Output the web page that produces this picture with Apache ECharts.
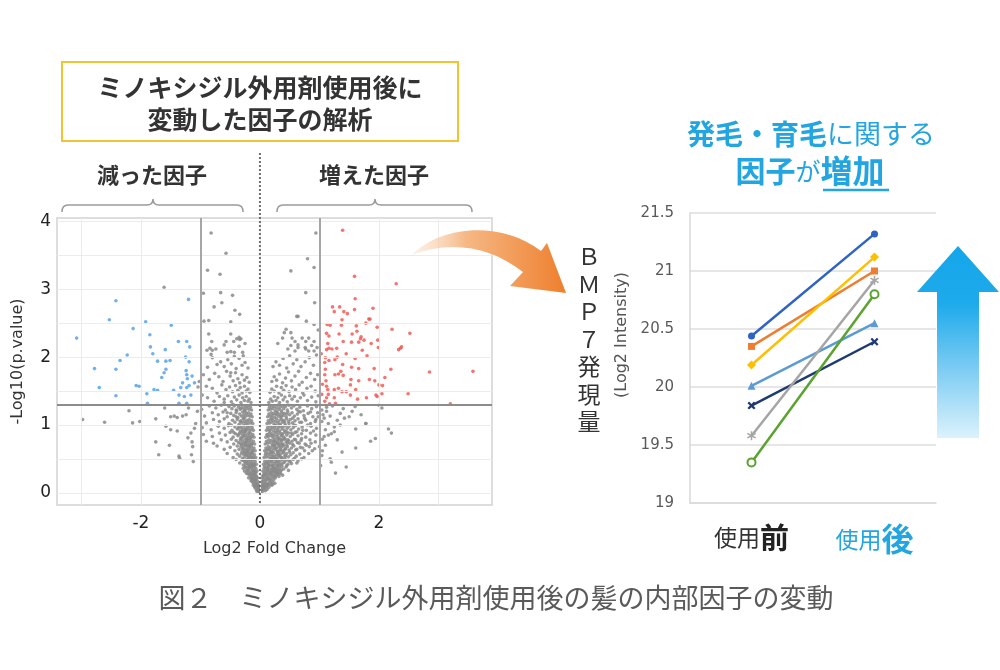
<!DOCTYPE html>
<html><head><meta charset="utf-8">
<script src="https://cdn.jsdelivr.net/npm/echarts@6/dist/echarts.min.js"></script>
<style>html,body{margin:0;padding:0;background:#fff}#c{width:1000px;height:670px}</style>
</head><body><div id="c"></div>
<script>
// ---------- Volcano plot data ----------
const volcanoXTicks = [-2, 0, 2];
const volcanoYTicks = [0, 1, 2, 3, 4];
const gridXLines = [-3, -2, -1, 0, 1, 2, 3];
const gridYLines = [0, 0.5, 1, 1.5, 2, 2.5, 3, 3.5, 4];
const foldCuts = [-1, 1];
const pCut = 1.3;

const grayLeft = [
[-0.01,0.01],[-0.02,0.03],[-0.03,0.02],[-0.02,0.06],[-0.04,0.05],[-0.05,0.08],[-0.03,0.09],[-0.06,0.04],[-0.07,0.09],[-0.08,0.07],[-0.01,0.04],[-0.05,0.02],
[-0.03,0.12],[-0.05,0.14],[-0.06,0.11],[-0.08,0.16],[-0.09,0.13],[-0.1,0.18],[-0.12,0.15],[-0.07,0.19],[-0.11,0.11],[-0.13,0.2],[-0.04,0.17],[-0.14,0.17],[-0.09,0.2],
[-0.04,0.22],[-0.06,0.25],[-0.08,0.23],[-0.1,0.27],[-0.12,0.22],[-0.13,0.26],[-0.15,0.29],[-0.16,0.24],[-0.18,0.27],[-0.07,0.29],[-0.11,0.3],[-0.19,0.22],[-0.21,0.28],[-0.14,0.21],[-0.09,0.26],
[-0.05,0.32],[-0.07,0.36],[-0.09,0.33],[-0.11,0.38],[-0.13,0.34],[-0.15,0.37],[-0.17,0.31],[-0.19,0.35],[-0.2,0.39],[-0.22,0.33],[-0.24,0.37],[-0.12,0.4],[-0.16,0.4],[-0.26,0.32],[-0.1,0.31],[-0.18,0.38],[-0.28,0.36],
[-0.06,0.42],[-0.08,0.46],[-0.1,0.43],[-0.12,0.48],[-0.14,0.44],[-0.16,0.47],[-0.18,0.42],[-0.2,0.45],[-0.22,0.49],[-0.24,0.43],[-0.26,0.46],[-0.28,0.41],[-0.13,0.5],[-0.19,0.5],[-0.3,0.48],[-0.34,0.44],[-0.11,0.41],[-0.23,0.47],[-0.4,0.49],
[-0.07,0.52],[-0.09,0.56],[-0.11,0.53],[-0.13,0.58],[-0.15,0.54],[-0.17,0.57],[-0.19,0.52],[-0.21,0.55],[-0.23,0.59],[-0.25,0.53],[-0.27,0.56],[-0.29,0.51],[-0.31,0.58],[-0.14,0.6],[-0.2,0.6],[-0.34,0.54],[-0.38,0.57],[-0.45,0.52],[-0.55,0.58],[-0.26,0.6],[-0.12,0.51],
[-0.08,0.62],[-0.1,0.66],[-0.12,0.63],[-0.14,0.68],[-0.16,0.64],[-0.18,0.67],[-0.2,0.62],[-0.22,0.65],[-0.24,0.69],[-0.26,0.63],[-0.28,0.66],[-0.3,0.61],[-0.32,0.68],[-0.35,0.64],[-0.38,0.69],[-0.42,0.62],[-0.5,0.67],[-0.6,0.64],[-0.72,0.69],[-0.17,0.7],[-0.23,0.7],
[-0.09,0.72],[-0.11,0.76],[-0.13,0.73],[-0.15,0.78],[-0.17,0.74],[-0.19,0.77],[-0.21,0.72],[-0.23,0.75],[-0.25,0.79],[-0.27,0.73],[-0.29,0.76],[-0.31,0.71],[-0.33,0.78],[-0.36,0.74],[-0.4,0.77],[-0.44,0.72],[-0.48,0.79],[-0.55,0.75],[-0.65,0.78],[-0.78,0.73],[-0.9,0.76],[-0.2,0.8],
[-0.1,0.82],[-0.12,0.86],[-0.14,0.83],[-0.16,0.88],[-0.18,0.84],[-0.2,0.87],[-0.22,0.82],[-0.24,0.85],[-0.26,0.89],[-0.28,0.83],[-0.3,0.86],[-0.32,0.81],[-0.34,0.88],[-0.37,0.84],[-0.41,0.87],[-0.45,0.82],[-0.5,0.89],[-0.58,0.85],[-0.68,0.88],[-0.8,0.83],[-0.95,0.86],[-0.25,0.9],
[-0.11,0.92],[-0.13,0.96],[-0.15,0.93],[-0.17,0.98],[-0.19,0.94],[-0.21,0.97],[-0.23,0.92],[-0.25,0.95],[-0.27,0.99],[-0.29,0.93],[-0.31,0.96],[-0.33,0.91],[-0.35,0.98],[-0.38,0.94],[-0.42,0.97],[-0.47,0.92],[-0.53,0.99],[-0.6,0.95],[-0.7,0.98],[-0.82,0.93],[-0.97,0.96],
[-0.12,1.02],[-0.14,1.06],[-0.16,1.03],[-0.18,1.08],[-0.2,1.04],[-0.22,1.07],[-0.24,1.02],[-0.26,1.05],[-0.28,1.09],[-0.3,1.03],[-0.32,1.06],[-0.35,1.01],[-0.38,1.08],[-0.42,1.04],[-0.46,1.07],[-0.52,1.02],[-0.6,1.09],[-0.68,1.05],[-0.78,1.08],[-0.9,1.03],
[-0.13,1.12],[-0.15,1.16],[-0.17,1.13],[-0.19,1.18],[-0.21,1.14],[-0.23,1.17],[-0.25,1.12],[-0.27,1.15],[-0.29,1.19],[-0.31,1.13],[-0.34,1.16],[-0.37,1.11],[-0.4,1.18],[-0.44,1.14],[-0.49,1.17],[-0.55,1.12],[-0.62,1.19],[-0.7,1.15],[-0.8,1.18],[-0.93,1.13],
[-0.14,1.22],[-0.16,1.26],[-0.18,1.23],[-0.2,1.28],[-0.22,1.24],[-0.24,1.27],[-0.26,1.22],[-0.28,1.25],[-0.3,1.29],[-0.33,1.23],[-0.36,1.26],[-0.39,1.21],[-0.43,1.28],[-0.47,1.24],[-0.52,1.27],[-0.58,1.22],[-0.65,1.29],[-0.74,1.25],[-0.85,1.28],[-0.98,1.23],
[-0.15,1.33],[-0.18,1.38],[-0.2,1.35],[-0.23,1.42],[-0.26,1.36],[-0.29,1.4],[-0.32,1.33],[-0.35,1.44],[-0.39,1.37],[-0.43,1.41],[-0.48,1.34],[-0.54,1.43],[-0.6,1.38],[-0.68,1.42],[-0.77,1.35],[-0.88,1.4],[-0.97,1.44],
[-0.17,1.48],[-0.2,1.53],[-0.23,1.5],[-0.26,1.57],[-0.3,1.47],[-0.33,1.55],[-0.37,1.51],[-0.41,1.58],[-0.46,1.49],[-0.51,1.56],[-0.57,1.52],[-0.64,1.59],[-0.72,1.47],[-0.8,1.54],[-0.9,1.57],
[-0.18,1.63],[-0.22,1.7],[-0.26,1.66],[-0.3,1.74],[-0.34,1.62],[-0.37,1.68],[-0.41,1.77],[-0.45,1.65],[-0.5,1.72],[-0.56,1.79],[-0.62,1.64],[-0.69,1.71],[-0.76,1.76],[-0.85,1.67],[-0.95,1.74],[-0.49,1.77],
[-0.2,1.84],[-0.25,1.92],[-0.3,1.88],[-0.35,1.98],[-0.4,1.83],[-0.43,2.01],[-0.48,1.9],[-0.54,1.96],[-0.6,1.86],[-0.66,1.93],[-0.72,1.89],[-0.8,1.99],[-0.88,1.85],[-0.82,2.04],[-0.28,2.02],
[-0.29,2.07],[-0.43,2.07],[-0.49,2.08],[-0.55,2.07],[-0.74,2.12],[-0.8,2.1],[-0.84,2.13],[-0.89,2.1],[-0.35,2.16],[-0.32,2.27],[-0.34,2.26],[-0.39,2.27],[-0.44,2.23],[-0.57,2.23],[-0.81,2.23],[-0.49,2.34],[-0.86,2.34],[-0.35,2.29],[-0.6,2.18],[-0.25,2.2],
[-0.34,2.63],[-0.42,2.69],[-0.49,2.52],[-0.77,2.74],[-0.64,2.8],[-0.86,2.54],[-0.94,2.53],[-0.46,2.91],[-0.66,2.95],[-0.95,2.94],[-0.67,3.22],[-0.88,3.28],[-0.57,3.53],[-0.82,3.83],
[-2.98,1.08],[-2.61,1.04],[-2.2,1.21],[-2.14,1.03],[-2.02,1.05],[-1.75,1.09],[-1.5,1.12],[-1.44,1.13],[-1.39,1.11],[-1.3,1.13],[-1.24,1.15],[-1.58,0.98],[-1.5,0.93],[-1.39,0.91],[-1.75,0.75],[-1.52,0.7],[-1.7,0.56],[-1.36,0.54],[-1.35,0.51],[-1.21,0.81],[-1.16,0.88],[-1.14,0.75],[-1.13,0.68],[-1.15,0.56],[-1.12,0.46],[-1.08,1.02],[-1.05,1.2],[-1.1,0.95],[-1.2,1.25],[-1.6,1.25],[-1.61,3.03],[-1.02,1.64],[-1.04,1.56]
];

const grayCoreLeft = [
[-0.02,0.08],[-0.04,0.11],[-0.07,0.14],[-0.09,0.09],[-0.11,0.2],[-0.06,0.21],[-0.13,0.24],[-0.15,0.19],[-0.08,0.3],[-0.12,0.33],[-0.17,0.28],[-0.2,0.33],[-0.23,0.29],[-0.09,0.4],[-0.14,0.42],[-0.17,0.38],[-0.21,0.43],[-0.25,0.39],[-0.1,0.5],[-0.15,0.53],[-0.18,0.49],[-0.22,0.56],[-0.28,0.48],[-0.12,0.6],[-0.16,0.58],[-0.21,0.63],[-0.25,0.58],[-0.29,0.65],[-0.14,0.72],[-0.19,0.69],[-0.24,0.74],[-0.28,0.7],[-0.33,0.73],[-0.16,0.81],[-0.22,0.78],[-0.27,0.84],[-0.31,0.8],[-0.36,0.86],[-0.18,0.9],[-0.24,0.93],[-0.3,0.9],[-0.36,0.95],[-0.44,0.89],[-0.21,1.0],[-0.27,1.1],[-0.33,1.05],[-0.4,1.12],[-0.48,1.0],[-0.25,1.2],[-0.32,1.25],[-0.4,1.22],[-0.55,1.18],[-0.45,1.3],[-0.6,1.33]
];

const grayRight = [
[0.01,0.01],[0.02,0.03],[0.03,0.05],[0.04,0.02],[0.05,0.07],[0.06,0.04],[0.07,0.09],[0.08,0.06],[0.09,0.03],[0.1,0.08],[0.03,0.09],[0.12,0.05],[0.02,0.07],
[0.03,0.12],[0.05,0.15],[0.07,0.11],[0.09,0.17],[0.11,0.13],[0.13,0.19],[0.15,0.14],[0.17,0.18],[0.19,0.12],[0.21,0.16],[0.06,0.19],[0.1,0.2],[0.14,0.11],[0.23,0.19],[0.18,0.2],[0.04,0.17],[0.25,0.14],
[0.04,0.22],[0.06,0.26],[0.08,0.23],[0.1,0.28],[0.12,0.24],[0.14,0.27],[0.16,0.21],[0.18,0.25],[0.2,0.29],[0.22,0.23],[0.24,0.27],[0.26,0.22],[0.28,0.26],[0.3,0.29],[0.32,0.24],[0.11,0.3],[0.19,0.3],[0.35,0.28],[0.07,0.29],[0.27,0.3],
[0.05,0.32],[0.07,0.36],[0.09,0.33],[0.11,0.38],[0.13,0.34],[0.15,0.37],[0.17,0.31],[0.19,0.35],[0.21,0.39],[0.23,0.33],[0.25,0.36],[0.27,0.31],[0.29,0.38],[0.31,0.34],[0.33,0.37],[0.35,0.32],[0.37,0.39],[0.4,0.35],[0.44,0.38],[0.14,0.4],[0.22,0.4],[0.3,0.4],[0.48,0.33],
[0.06,0.42],[0.08,0.46],[0.1,0.43],[0.12,0.48],[0.14,0.44],[0.16,0.47],[0.18,0.41],[0.2,0.45],[0.22,0.49],[0.24,0.43],[0.26,0.46],[0.28,0.41],[0.3,0.48],[0.32,0.44],[0.34,0.47],[0.36,0.42],[0.38,0.49],[0.41,0.45],[0.44,0.48],[0.47,0.42],[0.51,0.46],[0.56,0.49],[0.62,0.44],[0.17,0.5],[0.27,0.5],[0.37,0.5],
[0.07,0.52],[0.09,0.56],[0.11,0.53],[0.13,0.58],[0.15,0.54],[0.17,0.57],[0.19,0.51],[0.21,0.55],[0.23,0.59],[0.25,0.53],[0.27,0.56],[0.29,0.51],[0.31,0.58],[0.33,0.54],[0.35,0.57],[0.37,0.52],[0.39,0.59],[0.42,0.55],[0.45,0.58],[0.48,0.53],[0.52,0.56],[0.56,0.59],[0.61,0.54],[0.67,0.57],[0.74,0.52],[0.82,0.58],[0.2,0.6],[0.3,0.6],[0.4,0.6],
[0.08,0.62],[0.1,0.66],[0.12,0.63],[0.14,0.68],[0.16,0.64],[0.18,0.67],[0.2,0.61],[0.22,0.65],[0.24,0.69],[0.26,0.63],[0.28,0.66],[0.3,0.61],[0.32,0.68],[0.34,0.64],[0.36,0.67],[0.38,0.62],[0.4,0.69],[0.43,0.65],[0.46,0.68],[0.49,0.63],[0.53,0.66],[0.57,0.69],[0.62,0.64],[0.68,0.67],[0.75,0.62],[0.83,0.68],[0.92,0.65],[0.25,0.7],[0.35,0.7],[0.45,0.7],
[0.09,0.72],[0.11,0.76],[0.13,0.73],[0.15,0.78],[0.17,0.74],[0.19,0.77],[0.21,0.71],[0.23,0.75],[0.25,0.79],[0.27,0.73],[0.29,0.76],[0.31,0.71],[0.33,0.78],[0.35,0.74],[0.37,0.77],[0.39,0.72],[0.41,0.79],[0.44,0.75],[0.47,0.78],[0.5,0.73],[0.54,0.76],[0.58,0.79],[0.63,0.74],[0.69,0.77],[0.76,0.72],[0.84,0.78],[0.93,0.75],[1.05,0.79],[0.3,0.8],[0.42,0.8],
[0.1,0.82],[0.12,0.86],[0.14,0.83],[0.16,0.88],[0.18,0.84],[0.2,0.87],[0.22,0.81],[0.24,0.85],[0.26,0.89],[0.28,0.83],[0.3,0.86],[0.32,0.81],[0.34,0.88],[0.36,0.84],[0.38,0.87],[0.4,0.82],[0.42,0.89],[0.45,0.85],[0.48,0.88],[0.51,0.83],[0.55,0.86],[0.59,0.89],[0.64,0.84],[0.7,0.87],[0.77,0.82],[0.85,0.88],[0.94,0.85],[1.08,0.83],[1.2,0.87],
[0.11,0.92],[0.13,0.96],[0.15,0.93],[0.17,0.98],[0.19,0.94],[0.21,0.97],[0.23,0.91],[0.25,0.95],[0.27,0.99],[0.29,0.93],[0.31,0.96],[0.33,0.91],[0.35,0.98],[0.37,0.94],[0.39,0.97],[0.41,0.92],[0.43,0.99],[0.46,0.95],[0.49,0.98],[0.52,0.93],[0.56,0.96],[0.6,0.99],[0.65,0.94],[0.71,0.97],[0.78,0.92],[0.86,0.98],[0.95,0.95],[1.1,0.93],[1.25,0.97],
[0.12,1.02],[0.14,1.06],[0.16,1.03],[0.18,1.08],[0.2,1.04],[0.22,1.07],[0.24,1.01],[0.26,1.05],[0.28,1.09],[0.3,1.03],[0.32,1.06],[0.34,1.01],[0.36,1.08],[0.38,1.04],[0.4,1.07],[0.42,1.02],[0.45,1.09],[0.48,1.05],[0.51,1.08],[0.55,1.03],[0.59,1.06],[0.64,1.09],[0.7,1.04],[0.77,1.07],[0.85,1.02],[0.94,1.08],[1.04,1.05],[1.15,1.02],[1.3,1.07],[1.78,1.02],
[0.13,1.12],[0.15,1.16],[0.17,1.13],[0.19,1.18],[0.21,1.14],[0.23,1.17],[0.25,1.11],[0.27,1.15],[0.29,1.19],[0.31,1.13],[0.33,1.16],[0.35,1.11],[0.37,1.18],[0.39,1.14],[0.41,1.17],[0.44,1.12],[0.47,1.19],[0.5,1.15],[0.54,1.18],[0.58,1.13],[0.63,1.16],[0.68,1.19],[0.74,1.14],[0.81,1.17],[0.89,1.12],[0.97,1.18],[1.06,1.15],[1.18,1.13],[1.35,1.17],[1.5,1.12],
[0.14,1.22],[0.16,1.26],[0.18,1.23],[0.2,1.28],[0.22,1.24],[0.24,1.27],[0.26,1.21],[0.28,1.25],[0.3,1.29],[0.32,1.23],[0.34,1.26],[0.36,1.21],[0.38,1.28],[0.4,1.24],[0.43,1.27],[0.46,1.22],[0.49,1.29],[0.53,1.25],[0.57,1.28],[0.62,1.23],[0.67,1.26],[0.73,1.21],[0.8,1.28],[0.87,1.24],[0.95,1.27],[1.04,1.22],[1.12,1.26],[1.22,1.28],[1.4,1.24],[1.6,1.27],[2.0,1.29],
[0.15,1.33],[0.18,1.38],[0.21,1.35],[0.24,1.42],[0.27,1.36],[0.3,1.4],[0.33,1.33],[0.36,1.44],[0.39,1.37],[0.42,1.41],[0.46,1.34],[0.5,1.43],[0.54,1.38],[0.58,1.42],[0.63,1.35],[0.68,1.4],[0.74,1.44],[0.8,1.36],[0.87,1.41],[0.94,1.34],[0.98,1.43],
[0.17,1.48],[0.2,1.53],[0.24,1.5],[0.28,1.57],[0.32,1.47],[0.36,1.55],[0.4,1.51],[0.44,1.58],[0.49,1.49],[0.54,1.56],[0.6,1.52],[0.66,1.59],[0.72,1.47],[0.79,1.54],[0.86,1.57],[0.93,1.5],
[0.2,1.64],[0.24,1.71],[0.28,1.66],[0.33,1.75],[0.38,1.62],[0.43,1.69],[0.48,1.78],[0.53,1.65],[0.59,1.72],[0.65,1.79],[0.71,1.63],[0.78,1.7],[0.85,1.76],[0.92,1.67],[0.97,1.74],
[0.22,1.86],[0.27,1.93],[0.33,1.88],[0.39,1.98],[0.45,1.84],[0.5,2.02],[0.56,1.9],[0.62,1.96],[0.69,1.86],[0.76,1.93],[0.83,1.99],[0.9,1.88],[0.95,2.03],
[0.38,2.28],[0.44,2.41],[0.52,2.36],[0.54,2.28],[0.59,2.23],[0.64,2.18],[0.71,2.28],[0.76,2.14],[0.77,2.23],[0.82,2.28],[0.87,2.17],[0.91,2.23],[0.96,2.14],[0.52,2.17],[0.59,2.09],[0.64,2.14],[0.77,2.12],[0.82,2.09],[0.91,2.09],[0.98,2.4],[0.91,2.48],[0.41,2.36],[0.3,2.2],[0.47,2.12],
[0.64,2.6],[0.78,2.53],[0.62,2.6],[0.77,2.95],[0.92,2.8],[0.52,3.27],[0.91,3.32],[0.8,3.45],[0.94,3.83],
[1.61,0.94],[1.78,1.02],[1.94,0.8],[1.86,0.76],[2.16,0.94],[2.21,0.88],[1.45,0.38],[1.61,0.66],[1.27,0.29],[1.18,0.5],[1.2,0.45],[1.05,0.62],[1.1,0.7],[1.15,0.85],[1.25,0.9],[1.35,1.0],[1.42,1.1],[1.3,0.78],[1.08,1.1],[1.12,1.2],[1.55,1.2],[1.7,1.15],[2.05,1.25],[1.02,0.4],[1.04,0.55],[1.38,0.6]
];

const grayCoreRight = [
[0.04,0.06],[0.06,0.1],[0.08,0.12],[0.11,0.09],[0.13,0.12],[0.15,0.08],[0.17,0.15],[0.2,0.11],[0.22,0.13],[0.09,0.14],
[0.05,0.25],[0.09,0.27],[0.13,0.22],[0.15,0.32],[0.17,0.28],[0.21,0.25],[0.23,0.31],[0.25,0.24],[0.29,0.33],[0.31,0.27],[0.33,0.3],[0.36,0.34],[0.38,0.26],[0.12,0.35],[0.2,0.34],[0.26,0.35],
[0.08,0.39],[0.12,0.44],[0.15,0.41],[0.19,0.47],[0.23,0.38],[0.25,0.51],[0.29,0.45],[0.33,0.41],[0.35,0.52],[0.39,0.44],[0.42,0.5],[0.45,0.4],[0.49,0.47],[0.53,0.43],[0.58,0.51],[0.64,0.47],[0.7,0.5],[0.21,0.53],[0.31,0.55],[0.43,0.54],
[0.1,0.59],[0.14,0.63],[0.18,0.6],[0.22,0.7],[0.26,0.66],[0.3,0.73],[0.34,0.62],[0.38,0.71],[0.42,0.64],[0.46,0.74],[0.5,0.6],[0.55,0.71],[0.6,0.63],[0.66,0.73],[0.72,0.66],[0.78,0.7],[0.86,0.73],[0.24,0.76],[0.36,0.79],[0.48,0.77],[0.6,0.78],[0.7,0.8],[0.88,0.62],[1.0,0.68],
[0.13,0.85],[0.17,0.91],[0.21,0.84],[0.25,0.99],[0.29,0.9],[0.33,1.0],[0.37,0.85],[0.41,1.05],[0.45,0.9],[0.49,1.02],[0.53,0.88],[0.57,1.0],[0.62,0.9],[0.67,1.04],[0.72,0.92],[0.8,1.0],[0.9,0.91],[0.98,1.12],[0.2,1.1],[0.28,1.17],[0.36,1.13],[0.45,1.16],[0.55,1.1],[0.65,1.2],[0.75,1.1],[0.85,1.19],[0.93,1.05]
];

const bluePoints = [
[-1.2,2.85],[-2.42,2.83],[-2.53,2.55],[-2.13,2.42],[-1.92,2.52],[-1.49,2.47],[-1.85,2.33],[-3.08,2.28],[-1.37,2.23],[-1.23,2.23],[-1.18,2.15],[-1.84,2.15],[-1.59,2.11],[-1.8,2.05],[-2.23,2.03],[-2.78,1.83],[-2.42,1.82],[-2.35,1.95],[-1.72,1.94],[-1.58,1.94],[-1.51,1.95],[-1.19,1.93],[-1.58,1.82],[-1.61,1.77],[-1.24,1.8],[-1.23,1.74],[-1.22,1.68],[-1.65,1.7],[-2.7,1.55],[-2.08,1.58],[-2.03,1.57],[-1.78,1.52],[-1.72,1.51],[-1.45,1.51],[-1.33,1.55],[-1.23,1.55],[-1.19,1.58],[-2.42,1.43],[-1.9,1.46],[-1.36,1.44],[-1.27,1.42],[-1.16,1.44],[-1.89,1.32],[-1.36,1.32],[-1.23,1.32],[-1.25,2.0],[-1.3,1.62],[-1.1,1.62],[-1.14,1.72]
];

const redPoints = [
[1.39,3.87],[1.59,3.19],[2.29,3.08],[1.6,2.86],[1.22,2.74],[1.34,2.74],[1.59,2.7],[1.9,2.72],[1.25,2.67],[1.41,2.67],[1.47,2.64],[1.38,2.55],[1.13,2.48],[1.18,2.47],[1.37,2.47],[1.62,2.46],[1.78,2.5],[1.83,2.56],[1.85,2.56],[1.97,2.44],[2.22,2.41],[2.52,2.35],[1.12,2.35],[1.16,2.31],[1.55,2.34],[1.63,2.38],[1.33,2.34],[1.69,2.27],[1.7,2.3],[1.75,2.25],[1.66,2.22],[1.98,2.25],[1.99,2.14],[1.54,2.22],[1.4,2.23],[1.87,2.2],[2.36,2.13],[2.33,2.11],[2.38,2.15],[1.14,2.2],[1.12,2.11],[1.16,2.13],[1.21,2.12],[1.29,2.13],[1.72,2.1],
[3.58,1.79],[2.85,1.78],[2.49,1.46],[3.2,1.31],[2.2,1.82],[1.92,1.83],[1.66,1.83],[1.54,1.85],[1.39,1.89],[1.26,1.96],[1.1,1.99],[1.16,1.95],[1.26,1.74],[1.32,1.75],[1.36,1.79],[1.4,1.73],[1.53,1.67],[1.52,1.59],[1.66,1.65],[1.61,1.52],[1.84,1.67],[1.93,1.65],[2.0,1.59],[2.06,1.58],[2.05,1.46],[1.97,1.42],[1.09,1.92],[1.1,1.82],[1.09,1.74],[1.11,1.65],[1.12,1.57],[1.14,1.52],[1.15,1.45],[1.12,1.4],[1.09,1.35],[1.25,1.52],[1.32,1.54],[1.38,1.49],[1.45,1.49],[1.52,1.44],[1.25,1.4],[1.64,1.38],[1.79,1.4],[1.95,1.44],[1.17,1.31],[1.27,1.32],
[1.45,2.05],[1.8,2.02],[1.3,2.0],[1.6,1.98],[2.1,1.7],[1.05,1.6],[1.03,2.05],[1.04,1.45]
];

// ---------- BMP7 line chart data ----------
const lineCategories = ['使用前', '使用後'];
const lineYMin = 19, lineYMax = 21.5, lineYStep = 0.5;
const serBlue = [20.44, 21.32];
const serOrange = [20.35, 21.0];
const serYellow = [20.19, 21.12];
const serLightBlue = [20.01, 20.55];
const serNavy = [19.84, 20.39];
const serGray = [19.58, 20.92];
const serGreen = [19.35, 20.80];

const JP = "'Noto Sans CJK JP','Noto Sans',sans-serif";
const NUM = "'DejaVu Sans',Verdana,sans-serif";
const X_PATH = 'path://M2,0 L5,3 L8,0 L10,2 L7,5 L10,8 L8,10 L5,7 L2,10 L0,8 L3,5 L0,2 Z';
const STAR_PATH = 'path://M4.2,0H5.8V3.6L8.9,1.8L9.7,3.2L6.6,5L9.7,6.8L8.9,8.2L5.8,6.4V10H4.2V6.4L1.1,8.2L0.3,6.8L3.4,5L0.3,3.2L1.1,1.8L4.2,3.6Z';

// custom decorative shapes
echarts.graphic.registerShape('orangeArrow', echarts.graphic.extendShape({
  shape: {},
  buildPath(ctx) {
    ctx.moveTo(412, 255);
    ctx.bezierCurveTo(440, 226, 500, 220, 541, 251);
    ctx.lineTo(547, 243);
    ctx.lineTo(566, 293);
    ctx.lineTo(510, 286);
    ctx.lineTo(523, 272);
    ctx.bezierCurveTo(490, 246, 450, 240, 412, 255);
    ctx.closePath();
  }
}));
echarts.graphic.registerShape('bracket', echarts.graphic.extendShape({
  shape: {x1: 0, x2: 0, xm: 0, y: 0},
  buildPath(ctx, s) {
    ctx.moveTo(s.x1, s.y + 7);
    ctx.quadraticCurveTo(s.x1, s.y, s.x1 + 6, s.y);
    ctx.lineTo(s.xm - 6, s.y);
    ctx.quadraticCurveTo(s.xm, s.y, s.xm, s.y - 6);
    ctx.quadraticCurveTo(s.xm, s.y, s.xm + 6, s.y);
    ctx.lineTo(s.x2 - 6, s.y);
    ctx.quadraticCurveTo(s.x2, s.y, s.x2, s.y + 7);
  }
}));

const chart = echarts.init(document.getElementById('c'), null, {renderer: 'canvas'});

function lineSeries(name, data, color, symbol, size, extra) {
  return Object.assign({
    type: 'line', name, data, xAxisIndex: 1, yAxisIndex: 1,
    symbol, symbolSize: size,
    lineStyle: {color, width: 2.5},
    itemStyle: {color},
    silent: true, animation: false, z: 5
  }, extra || {});
}

const option = {
  animation: false,
  backgroundColor: '#fff',
  grid: [
    {left: 57, top: 218, width: 435, height: 287, show: true, borderColor: '#d2d2d2', borderWidth: 1.5, backgroundColor: '#fff'},
    {left: 690, top: 213, width: 246, height: 290}
  ],
  xAxis: [
    {type: 'value', gridIndex: 0, min: -3.41, max: 3.9,
     name: 'Log2 Fold Change', nameLocation: 'middle', nameGap: 36,
     nameTextStyle: {fontFamily: NUM, fontSize: 16, color: '#333'},
     axisLine: {show: false}, splitLine: {show: false},
     axisTick: {show: true, customValues: volcanoXTicks, length: 3, lineStyle: {color: '#999'}},
     axisLabel: {customValues: volcanoXTicks, fontFamily: NUM, fontSize: 17, color: '#222', margin: 10}},
    {type: 'category', gridIndex: 1, data: lineCategories, boundaryGap: true,
     axisLine: {lineStyle: {color: '#d9d9d9', width: 1.5}}, axisTick: {show: false},
     axisLabel: {margin: 20,
       formatter: v => v === '使用前' ? '{a|使用}{b|前}' : '{c|使用}{d|後}',
       rich: {
         a: {fontFamily: JP, fontSize: 23, color: '#333'},
         b: {fontFamily: JP, fontSize: 29, fontWeight: 'bold', color: '#222'},
         c: {fontFamily: JP, fontSize: 23, color: '#22a5e0'},
         d: {fontFamily: JP, fontSize: 32, fontWeight: 'bold', color: '#22a5e0'}
       }}}
  ],
  yAxis: [
    {type: 'value', gridIndex: 0, min: -0.18, max: 4.05,
     name: '-Log10(p.value)', nameLocation: 'middle', nameGap: 31, nameRotate: 90,
     nameTextStyle: {fontFamily: NUM, fontSize: 16, color: '#333'},
     axisLine: {show: false}, splitLine: {show: false},
     axisTick: {show: true, customValues: volcanoYTicks, length: 3, lineStyle: {color: '#999'}},
     axisLabel: {customValues: volcanoYTicks, fontFamily: NUM, fontSize: 17, color: '#222', margin: 6}},
    {type: 'value', gridIndex: 1, min: lineYMin, max: lineYMax, interval: lineYStep,
     axisLine: {show: true, lineStyle: {color: '#d9d9d9', width: 1.5}}, axisTick: {show: false},
     splitLine: {lineStyle: {color: '#dedede', width: 1.5}},
     axisLabel: {fontFamily: NUM, fontSize: 15, color: '#595959', margin: 16}}
  ],
  series: [
    {type: 'scatter', xAxisIndex: 0, yAxisIndex: 0, data: [], silent: true, z: 1,
     markLine: {silent: true, symbol: 'none', label: {show: false}, animation: false,
       lineStyle: {color: '#ececec', width: 1, type: 'solid'},
       data: gridXLines.map(v => ({xAxis: v})).concat(gridYLines.map(v => ({yAxis: v})))}},
    {type: 'scatter', xAxisIndex: 0, yAxisIndex: 0, data: grayLeft.concat(grayRight, grayCoreLeft, grayCoreRight), silent: true, z: 2,
     symbolSize: 3.6, itemStyle: {color: '#8a8a8a', opacity: 0.85}},
    {type: 'scatter', xAxisIndex: 0, yAxisIndex: 0, data: bluePoints, silent: true, z: 3,
     symbolSize: 3.6, itemStyle: {color: '#4d9ee6'}},
    {type: 'scatter', xAxisIndex: 0, yAxisIndex: 0, data: redPoints, silent: true, z: 3,
     symbolSize: 3.6, itemStyle: {color: '#f0524e'}},
    {type: 'scatter', xAxisIndex: 0, yAxisIndex: 0, data: [], silent: true, z: 4,
     markLine: {silent: true, symbol: 'none', label: {show: false}, animation: false,
       data: foldCuts.map(v => ({xAxis: v, lineStyle: {color: '#a6a6a6', width: 2, type: 'solid'}}))
         .concat([{yAxis: pCut, lineStyle: {color: '#8c8c8c', width: 2, type: 'solid'}}])}},
    lineSeries('s1', serBlue, '#2e62c4', 'circle', 7),
    lineSeries('s2', serOrange, '#ed7d31', 'rect', 7),
    lineSeries('s3', serYellow, '#ffbf00', 'diamond', 9),
    lineSeries('s4', serLightBlue, '#5b9bd5', 'triangle', 8),
    lineSeries('s5', serNavy, '#1f3a70', X_PATH, 8),
    lineSeries('s6', serGray, '#a5a5a5', STAR_PATH, 9),
    lineSeries('s7', serGreen, '#5ba32e', 'emptyCircle', 8, {itemStyle: {color: '#5ba32e', borderWidth: 2}})
  ]
};
chart.setOption(option);

const p0top = chart.convertToPixel({gridIndex: 0}, [0, 4.05]);
const p0bot = chart.convertToPixel({gridIndex: 0}, [0, -0.18]);

const graphics = [
  {type: 'rect', z: 50, shape: {x: 62, y: 62, width: 396, height: 79},
   style: {fill: '#fff', stroke: '#f3c233', lineWidth: 2}},
  {type: 'text', z: 51, style: {text: 'ミノキシジル外用剤使用後に', x: 260, y: 87, align: 'center', verticalAlign: 'middle',
    fontFamily: JP, fontSize: 25, fontWeight: 'bold', fill: '#333'}},
  {type: 'text', z: 51, style: {text: '変動した因子の解析', x: 260, y: 119, align: 'center', verticalAlign: 'middle',
    fontFamily: JP, fontSize: 25, fontWeight: 'bold', fill: '#333'}},
  {type: 'text', z: 51, style: {text: '減った因子', x: 152, y: 175, align: 'center', verticalAlign: 'middle',
    fontFamily: JP, fontSize: 22, fontWeight: 'bold', fill: '#333'}},
  {type: 'text', z: 51, style: {text: '増えた因子', x: 374, y: 175, align: 'center', verticalAlign: 'middle',
    fontFamily: JP, fontSize: 22, fontWeight: 'bold', fill: '#333'}},
  {type: 'bracket', z: 51, shape: {x1: 62, x2: 243, xm: 153, y: 205},
   style: {fill: null, stroke: '#9a9a9a', lineWidth: 1.5}},
  {type: 'bracket', z: 51, shape: {x1: 277, x2: 472, xm: 375, y: 205},
   style: {fill: null, stroke: '#9a9a9a', lineWidth: 1.5}},
  {type: 'line', z: 60, shape: {x1: p0top[0], y1: 153, x2: p0bot[0], y2: p0bot[1]},
   style: {stroke: '#6e6e6e', lineWidth: 2, lineDash: [2, 2]}},
  {type: 'orangeArrow', z: 70,
   style: {fill: {type: 'linear', x: 0, y: 0, x2: 1, y2: 0, colorStops: [
     {offset: 0, color: 'rgba(250,220,195,0.4)'}, {offset: 0.35, color: '#f6b884'}, {offset: 1, color: '#ee7f2d'}]}}},
  {type: 'text', z: 51, style: {text: '{b|発毛・育毛}{r|に関する}', x: 811, y: 134, align: 'center', verticalAlign: 'middle',
    rich: {b: {fontFamily: JP, fontSize: 28, fontWeight: 'bold', fill: '#22a5e0'}, r: {fontFamily: JP, fontSize: 27, fill: '#22a5e0'}}}},
  {type: 'text', z: 51, style: {text: '{b|因子}{s|が}{c|増加}', x: 810, y: 171, align: 'center', verticalAlign: 'middle',
    rich: {b: {fontFamily: JP, fontSize: 30, fontWeight: 'bold', fill: '#22a5e0'}, s: {fontFamily: JP, fontSize: 25, fill: '#22a5e0'},
           c: {fontFamily: JP, fontSize: 32, fontWeight: 'bold', fill: '#22a5e0'}}}},
  {type: 'line', z: 51, shape: {x1: 823, y1: 190, x2: 889, y2: 190}, style: {stroke: '#22a5e0', lineWidth: 2.5}},
  {type: 'text', z: 51, style: {text: 'Ｂ\nＭ\nＰ\n７\n発\n現\n量', x: 589, y: 339, align: 'center', verticalAlign: 'middle',
    fontFamily: JP, fontSize: 23, lineHeight: 27.5, fill: '#333'}},
  {type: 'text', z: 51, rotation: Math.PI / 2, x: 622, y: 335,
   style: {text: '(Log2 Intensity)', x: 0, y: 0, align: 'center', verticalAlign: 'middle', fontFamily: NUM, fontSize: 16, fill: '#555'}},
  {type: 'polygon', z: 40, shape: {points: [[958, 246], [999, 292], [979, 292], [979, 438], [937, 438], [937, 292], [917, 292]]},
   style: {fill: {type: 'linear', x: 0, y: 0, x2: 0, y2: 1, colorStops: [
     {offset: 0, color: '#14a6ea'}, {offset: 0.3, color: '#1eaaeb'}, {offset: 0.65, color: '#7fcdf3'}, {offset: 1, color: '#dcf2fc'}]}}},
  {type: 'text', z: 51, style: {text: '図２　ミノキシジル外用剤使用後の髪の内部因子の変動', x: 496, y: 598, align: 'center', verticalAlign: 'middle',
    fontFamily: JP, fontSize: 27, fill: '#5a5a5a'}}
];
chart.setOption({graphic: graphics});
</script>
</body></html>
